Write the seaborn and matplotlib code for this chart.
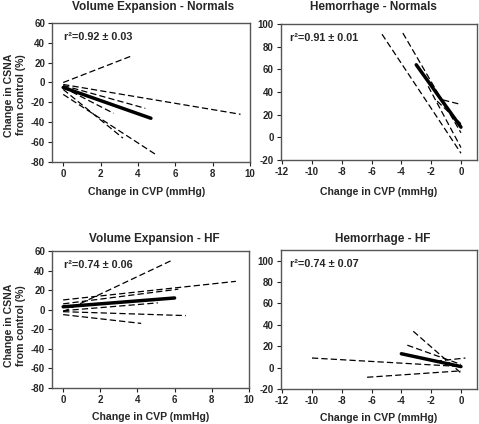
import pandas as pd
import matplotlib.pyplot as plt
import seaborn as sns

# Each line is (CVP start, CSNA start, CVP end, CSNA end)
ve_normals_subjects = [(0, 0, 3.7, 27), (0, -2, 9.5, -32), (0, -3, 4.4, -26),
                       (0, -5, 2.7, -31), (0, -12, 5.0, -73), (0, -7, 3.2, -56)]
ve_normals_mean = (0, -5, 4.7, -36)

hem_normals_subjects = [(-5.3, 91, 0, -14), (-3.9, 92, 0, 4), (-2.2, 45, 0, -9),
                        (-1.2, 33, 0, 29), (-1.6, 32, 0, 12)]
hem_normals_mean = (-3.0, 64, 0, 9)

ve_hf_subjects = [(0, -2, 5.8, 50), (0, 10, 9.3, 29), (0, 6, 6.2, 21),
                  (0, -1, 5.1, 7), (0, -2, 6.6, -6), (0, -5, 4.2, -14)]
ve_hf_mean = (0, 3, 6.0, 12)

hem_hf_subjects = [(-10, 9, 0, 1), (-6.3, -9, 0, -3), (-3.6, 21, 0, 3),
                   (-3.2, 34, 0, -5), (-1.7, 6, 0.3, 9)]
hem_hf_mean = (-4, 13, 0, 1)

titles = ['Volume Expansion - Normals', 'Hemorrhage - Normals',
          'Volume Expansion - HF', 'Hemorrhage - HF']
r2_labels = ['r²=0.92 ± 0.03', 'r²=0.91 ± 0.01', 'r²=0.74 ± 0.06', 'r²=0.74 ± 0.07']


def make_frame(subjects, mean):
    # Turn the line end points into a long table for seaborn
    rows = []
    for i, (x0, y0, x1, y1) in enumerate(list(subjects) + [mean]):
        kind = 'mean' if i == len(subjects) else 'subject'
        rows.append({'line': i, 'kind': kind, 'cvp': x0, 'csna': y0})
        rows.append({'line': i, 'kind': kind, 'cvp': x1, 'csna': y1})
    return pd.DataFrame(rows)


sns.set_theme(style="white")
plt.rcParams['font.family'] = ['Liberation Sans', 'DejaVu Sans']
plt.rcParams['font.weight'] = 'bold'
plt.rcParams['axes.unicode_minus'] = False

fig = plt.figure(figsize=(4.79, 4.24), dpi=100)

# panel positions in figure fractions
positions = [
    [0.1086, 0.618, 0.413, 0.328],
    [0.586, 0.6226, 0.409, 0.3208],
    [0.1086, 0.0849, 0.411, 0.3231],
    [0.586, 0.0825, 0.409, 0.3278],
]
data = [(ve_normals_subjects, ve_normals_mean), (hem_normals_subjects, hem_normals_mean),
        (ve_hf_subjects, ve_hf_mean), (hem_hf_subjects, hem_hf_mean)]
xlims = [(-0.6, 10), (-12.1, 1.05), (-0.6, 10), (-12.1, 1.05)]
ylims = [(-80, 60), (-20, 100), (-80, 60), (-20, 110)]
xticks = [range(0, 11, 2), range(-12, 1, 2), range(0, 11, 2), range(-12, 1, 2)]
yticks = [range(-80, 61, 20), range(-20, 101, 20), range(-80, 61, 20), range(-20, 101, 20)]
title_pos = [(0.319, 0.983), (0.780, 0.983), (0.323, 0.437), (0.798, 0.437)]
xlabel_pos = [(0.307, 0.548), (0.791, 0.548), (0.315, 0.017), (0.791, 0.013)]

for k in range(4):
    ax = fig.add_axes(positions[k])
    df = make_frame(*data[k])
    sns.lineplot(data=df, x='cvp', y='csna', units='line', estimator=None,
                 style='kind', size='kind',
                 dashes={'subject': (5, 2.5), 'mean': ''},
                 sizes={'subject': 0.9, 'mean': 2.5},
                 color='black', sort=False, legend=False, ax=ax)
    ax.set_xlim(*xlims[k])
    ax.set_ylim(*ylims[k])
    ax.set_xticks(list(xticks[k]))
    ax.set_yticks(list(yticks[k]))
    ax.set_xlabel('')
    ax.set_ylabel('')
    ax.tick_params(direction='out', length=3, width=0.8, labelsize=7, pad=2,
                   color='#222222', bottom=True, left=True)
    for lab in ax.get_xticklabels() + ax.get_yticklabels():
        lab.set_fontweight('bold')
    for sp in ax.spines.values():
        sp.set_color('#555555')
        sp.set_linewidth(1.0)
    ax.text(0.06 if k % 2 == 0 else 0.045, 0.90, r2_labels[k], transform=ax.transAxes,
            fontsize=7.8, fontweight='bold', ha='left', va='center')

    fig.text(*title_pos[k], titles[k], fontsize=8.5, fontweight='bold',
             ha='center', va='center')
    fig.text(*xlabel_pos[k], 'Change in CVP (mmHg)', fontsize=7.6, fontweight='bold',
             ha='center', va='center')

# y labels only on the left panels
for ycen in [0.776, 0.232]:
    fig.text(0.031, ycen, 'Change in CSNA\nfrom control (%)', rotation=90,
             fontsize=7.6, fontweight='bold', ha='center', va='center',
             multialignment='center', linespacing=1.3)

plt.savefig('out.png', dpi=100)
plt.close()
